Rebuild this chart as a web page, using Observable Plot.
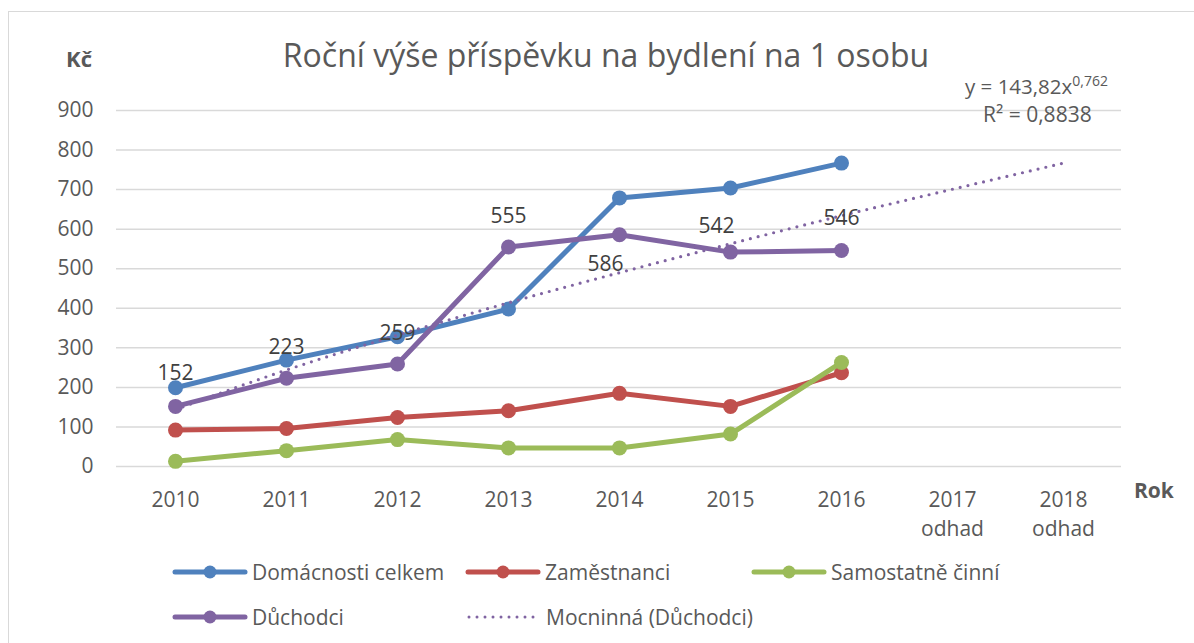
<!DOCTYPE html>
<html>
<head>
<meta charset="utf-8">
<script src="https://cdn.jsdelivr.net/npm/d3@7"></script>
<script src="https://cdn.jsdelivr.net/npm/@observablehq/plot@0.6"></script>
<style>
  html, body { margin: 0; padding: 0; background: #fff; }
  #wrap { position: relative; width: 1194px; height: 643px; overflow: hidden; background: #fff; font-family: "Open Sans", sans-serif; color: #595959; }
  .abs { position: absolute; white-space: nowrap; line-height: 1; }
  .leg { position: absolute; display: flex; align-items: center; white-space: nowrap; font-size: 21px; color: #595959; }
  .leg svg { margin-right: 1px; }
</style>
</head>
<body>
<div id="wrap">
  <div style="position:absolute;left:8px;top:11px;width:1400px;height:900px;border:1.5px solid #d9d9d9;"></div>
  <div id="chart" style="position:absolute;left:0;top:0;"></div>
  <div id="title" class="abs" style="left:0;width:1212px;text-align:center;font-size:32px;"></div>
  <div id="unit" class="abs" style="left:0;width:92px;text-align:right;font-size:22px;font-weight:bold;"></div>
  <div id="xname" class="abs" style="left:1134px;font-size:21px;font-weight:bold;"></div>
  <div id="eq1" class="abs" style="left:965px;font-size:20.5px;"></div>
  <div id="eq2" class="abs" style="left:983px;font-size:21px;"></div>
  <div id="legend"></div>
</div>
<script>
// ---- data ----
const years = ["2010", "2011", "2012", "2013", "2014", "2015", "2016", "2017", "2018"];
const estimateYears = ["2017", "2018"];
const estimateNote = "odhad";
const dataYears = ["2010", "2011", "2012", "2013", "2014", "2015", "2016"];
const domacnostiCelkem = [199, 269, 328, 398, 679, 704, 767];
const zamestnanci = [92, 96, 124, 141, 185, 152, 237];
const samostatneCinni = [13, 40, 68, 47, 47, 82, 263];
const duchodci = [152, 223, 259, 555, 586, 542, 546];
const trendDuchodci = [144, 244, 332, 414, 490, 563, 634, 701, 767];
const yTicks = [0, 100, 200, 300, 400, 500, 600, 700, 800, 900];
const seriesNames = ["Domácnosti celkem", "Zaměstnanci", "Samostatně činní", "Důchodci"];
const trendName = "Mocninná (Důchodci)";
const titleText = "Roční výše příspěvku na bydlení na 1 osobu";
const unitText = "Kč";
const xAxisName = "Rok";
const equationText = ["y = 143,82x", "0,762"];
const r2Text = "R² = 0,8838";

// ---- styles ----
const colors = ["#4f81bd", "#c0504d", "#9bbb59", "#8064a2"];
const seriesValues = [domacnostiCelkem, zamestnanci, samostatneCinni, duchodci];
// label placement for Důchodci data labels (style, not data)
const labelDy = [-33, -31, -31, -31, 30, -26, -32];
const labelDx = [0, 0, 0, 0, -14, -14, 0];

const rows = [];
seriesNames.forEach((name, s) => {
  dataYears.forEach((yr, i) => rows.push({series: name, year: yr, value: seriesValues[s][i], idx: i}));
});
const trendRows = years.map((yr, i) => ({year: yr, value: trendDuchodci[i]}));
const labelRows = dataYears.map((yr, i) => ({year: yr, value: duchodci[i], idx: i}));

const marks = [
  Plot.ruleY(yTicks, {stroke: "#d9d9d9", strokeWidth: 1.5})
];
seriesNames.forEach((name, s) => {
  const d = rows.filter(r => r.series === name);
  marks.push(Plot.line(d, {x: "year", y: "value", stroke: colors[s], strokeWidth: 5, strokeLinejoin: "round", strokeLinecap: "round"}));
  marks.push(Plot.dot(d, {x: "year", y: "value", r: 7.5, fill: colors[s], stroke: "none"}));
});
marks.push(Plot.line(trendRows, {x: "year", y: "value", stroke: "#8064a2", strokeWidth: 3.2, strokeDasharray: "0,8", strokeLinecap: "round", curve: "monotone-x"}));
labelDy.forEach((dy, i) => {
  marks.push(Plot.text(labelRows.filter(r => r.idx === i), {x: "year", y: "value", text: d => String(d.value), dy, dx: labelDx[i], fontSize: 21, fill: "#404040"}));
});
marks.push(Plot.axisY(yTicks, {tickSize: 0, tickPadding: 23, fontSize: 21, label: null}));
marks.push(Plot.axisX(years, {tickSize: 0, tickPadding: 20, fontSize: 21, lineHeight: 1.38, label: null,
  tickFormat: d => estimateYears.includes(d) ? d + "\n" + estimateNote : d}));

const chart = Plot.plot({
  width: 1194,
  height: 540,
  marginLeft: 116,
  marginRight: 73,
  marginTop: 110,
  marginBottom: 74,
  style: {fontFamily: "Open Sans", color: "#595959", background: "transparent", overflow: "visible"},
  x: {type: "point", domain: years, padding: 0.5, axis: null},
  y: {domain: [0, 900], axis: null},
  marks
});
document.getElementById("chart").appendChild(chart);

// ---- text annotations ----
function place(id, text, baseline, fs) {
  const el = document.getElementById(id);
  el.textContent = text;
  el.style.top = (baseline - 0.888 * fs) + "px";
}
place("title", titleText, 67, 32);
place("unit", unitText, 67, 22);
place("xname", xAxisName, 499, 21);
const eq1 = document.getElementById("eq1");
eq1.innerHTML = "";
eq1.appendChild(document.createTextNode(equationText[0]));
const sup = document.createElement("span");
sup.textContent = equationText[1];
sup.style.cssText = "font-size:14px;position:relative;top:-8px;";
eq1.appendChild(sup);
eq1.style.top = (94 - 0.888 * 20.5) + "px";
place("eq2", r2Text, 123, 21);

// ---- legend ----
const legendItems = [
  {name: seriesNames[0], color: colors[0], dotted: false, x: 175, y: 572},
  {name: seriesNames[1], color: colors[1], dotted: false, x: 468, y: 572},
  {name: seriesNames[2], color: colors[2], dotted: false, x: 754, y: 572},
  {name: seriesNames[3], color: colors[3], dotted: false, x: 175, y: 617},
  {name: trendName, color: colors[3], dotted: true, x: 469, y: 617}
];
const legend = document.getElementById("legend");
legendItems.forEach(it => {
  const div = document.createElement("div");
  div.className = "leg";
  div.style.left = (it.x - 4) + "px";
  div.style.top = (it.y - 15) + "px";
  div.style.height = "30px";
  const ns = "http://www.w3.org/2000/svg";
  const svg = document.createElementNS(ns, "svg");
  svg.setAttribute("width", 80);
  svg.setAttribute("height", 30);
  const line = document.createElementNS(ns, "line");
  line.setAttribute("x1", 4); line.setAttribute("x2", 74);
  line.setAttribute("y1", 15); line.setAttribute("y2", 15);
  line.setAttribute("stroke", it.color);
  line.setAttribute("stroke-linecap", "round");
  if (it.dotted) {
    line.setAttribute("stroke-width", 3);
    line.setAttribute("stroke-dasharray", "0,8");
  } else {
    line.setAttribute("stroke-width", 5);
  }
  svg.appendChild(line);
  if (!it.dotted) {
    const c = document.createElementNS(ns, "circle");
    c.setAttribute("cx", 39); c.setAttribute("cy", 15); c.setAttribute("r", 6.5);
    c.setAttribute("fill", it.color);
    svg.appendChild(c);
  }
  div.appendChild(svg);
  const span = document.createElement("span");
  span.textContent = it.name;
  div.appendChild(span);
  legend.appendChild(div);
});
</script>
</body>
</html>
